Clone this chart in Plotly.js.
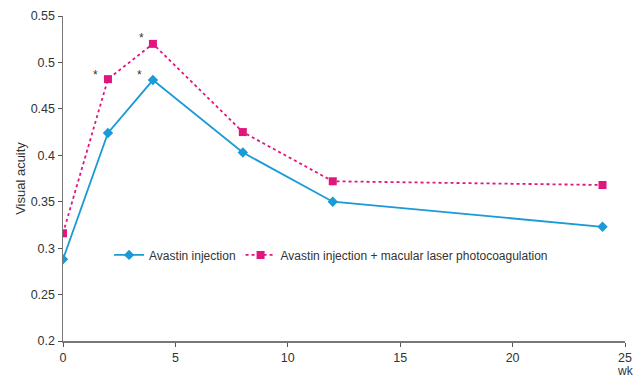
<!DOCTYPE html>
<html><head><meta charset="utf-8">
<script src="https://cdn.plot.ly/plotly-3.0.1.min.js"></script>
<style>body{margin:0;padding:0;background:#fff}#chart{width:643px;height:381px}</style>
</head><body><div id="chart"></div>
<script>
const weeks = [0, 2, 4, 8, 12, 24];
const avastin = [0.288, 0.424, 0.481, 0.403, 0.350, 0.323];
const avastinLaser = [0.316, 0.482, 0.520, 0.425, 0.372, 0.368];
const starX = [1.45, 3.4, 3.5];
const starY = [0.487, 0.487, 0.526];
const nameA = 'Avastin injection';
const nameB = 'Avastin injection + macular laser photocoagulation';

const traces = [
  {x: weeks, y: avastin, name: nameA, mode: 'lines+markers', type: 'scatter',
   line: {color: '#1a9ad6', width: 1.8}, marker: {symbol: 'diamond', size: 8, color: '#1a9ad6'}},
  {x: weeks, y: avastinLaser, name: nameB, mode: 'lines+markers', type: 'scatter',
   line: {color: '#e0157f', width: 1.8, dash: '3px,3px'}, marker: {symbol: 'square', size: 8, color: '#e0157f'}}
];
const ann = starX.map((x, i) => ({x: x, y: starY[i], text: '*', showarrow: false, font: {size: 12, color: '#333'}, xanchor: 'center', yanchor: 'middle'}));
ann.push({xref: 'paper', yref: 'paper', x: 1, y: 0, yshift: -30, text: 'wk', showarrow: false, xanchor: 'center', yanchor: 'middle', font: {size: 12, color: '#333'}});

const axisCommon = {showgrid: false, zeroline: false, showline: true, linecolor: '#777', linewidth: 1.5,
  ticks: 'outside', ticklen: 4, tickcolor: '#555', tickfont: {size: 12.5, color: '#333'}};

Plotly.newPlot('chart', traces, {
  width: 643, height: 381,
  margin: {l: 63, r: 18, t: 16, b: 40},
  paper_bgcolor: '#fff', plot_bgcolor: '#fff',
  font: {family: 'Liberation Sans, Arial, sans-serif', color: '#333'},
  xaxis: Object.assign({}, axisCommon, {range: [0, 25], tickvals: [0, 5, 10, 15, 20, 25]}),
  yaxis: Object.assign({}, axisCommon, {range: [0.2, 0.55], tickvals: [0.2, 0.25, 0.3, 0.35, 0.4, 0.45, 0.5, 0.55],
    ticktext: ['0.2', '0.25', '0.3', '0.35', '0.4', '0.45', '0.5', '0.55'],
    title: {text: 'Visual acuity', font: {size: 13, color: '#333'}, standoff: 2}}),
  showlegend: true,
  legend: {orientation: 'h', x: 0.082, y: 0.265, xanchor: 'left', yanchor: 'middle', font: {size: 12, color: '#333'}, bgcolor: 'rgba(0,0,0,0)', itemwidth: 30},
  annotations: ann
}, {displayModeBar: false, staticPlot: true});
</script></body></html>
